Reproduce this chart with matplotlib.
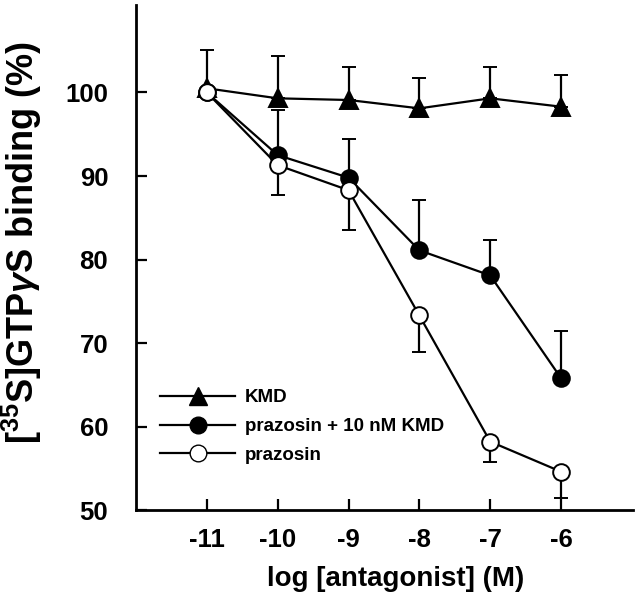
import numpy as np
import matplotlib.pyplot as plt
from matplotlib.lines import Line2D

plt.rcParams['font.family'] = ['Liberation Sans', 'DejaVu Sans']
plt.rcParams['font.weight'] = 'bold'
plt.rcParams['mathtext.fontset'] = 'custom'
plt.rcParams['mathtext.rm'] = 'Liberation Sans:bold'
plt.rcParams['mathtext.it'] = 'Liberation Sans:bold:italic'
plt.rcParams['mathtext.bf'] = 'Liberation Sans:bold'

# данные
log_conc = [-11, -10, -9, -8, -7, -6]

kmd = [100.5, 99.3, 99.1, 98.1, 99.3, 98.3]
kmd_err = [4.6, 5.1, 3.9, 3.6, 3.8, 3.8]

praz_kmd = [100.0, 92.5, 89.8, 81.1, 78.1, 65.8]
praz_kmd_err = [0.0, 5.4, 4.6, 6.0, 4.2, 5.7]

praz = [100.0, 91.3, 88.3, 73.3, 58.2, 54.6]
praz_err = [0.0, 3.6, 4.8, 4.4, 2.4, 3.1]

x_ticks = [-11, -10, -9, -8, -7, -6]
y_ticks = [50, 60, 70, 80, 90, 100]

fig = plt.figure(figsize=(6.4, 5.98), dpi=100)
ax = fig.add_axes([0.2125, 0.147, 0.777, 0.845])

zeros = np.zeros(len(log_conc))
common = dict(color='black', lw=1.6, capsize=5, elinewidth=1.6, capthick=1.6,
              markeredgewidth=1.4, markeredgecolor='black')

# KMD (ошибки только вверх)
ax.errorbar(log_conc, kmd, yerr=[zeros, kmd_err], marker='^', ms=13,
            markerfacecolor='black', zorder=3, **common)
# prazosin + 10 nM KMD
ax.errorbar(log_conc, praz_kmd, yerr=[zeros, praz_kmd_err], marker='o', ms=12,
            markerfacecolor='black', zorder=4, **common)
# prazosin (ошибки только вниз)
ax.errorbar(log_conc, praz, yerr=[praz_err, zeros], marker='o', ms=12,
            markerfacecolor='white', zorder=5, **common)

ax.set_xlim(-12, -4.98)
ax.set_ylim(50, 110.5)
ax.set_xticks(x_ticks)
ax.set_yticks(y_ticks)
ax.set_xticklabels([str(v) for v in x_ticks])
ax.tick_params(direction='in', length=8, width=1.6, labelsize=18.5)
ax.tick_params(axis='y', pad=20)
ax.tick_params(axis='x', pad=13)

for s in ['top', 'right']:
    ax.spines[s].set_visible(False)
for s in ['left', 'bottom']:
    ax.spines[s].set_linewidth(2)

ax.set_xlabel('log [antagonist] (M)', fontsize=20, fontweight='bold')
ax.xaxis.set_label_coords(0.523, -0.11)
ax.set_ylabel(r'[$^{35}$S]GTP$\mathit{\gamma}$S binding (%)', fontsize=26, fontweight='bold')
ax.yaxis.set_label_coords(-0.185, 0.529)

handles = [
    Line2D([], [], color='black', lw=1.6, marker='^', ms=13, markerfacecolor='black'),
    Line2D([], [], color='black', lw=1.6, marker='o', ms=12, markerfacecolor='black'),
    Line2D([], [], color='black', lw=1.6, marker='o', ms=12, markerfacecolor='white',
           markeredgecolor='black'),
]
labels = ['KMD', 'prazosin + 10 nM KMD', 'prazosin']
ax.legend(handles, labels, loc='lower left', bbox_to_anchor=(0.015, 0.058),
          frameon=False, handlelength=4.0, labelspacing=0.62,
          handletextpad=0.5, prop={'weight': 'bold', 'size': 13.5})

fig.savefig('out.png', dpi=100)
